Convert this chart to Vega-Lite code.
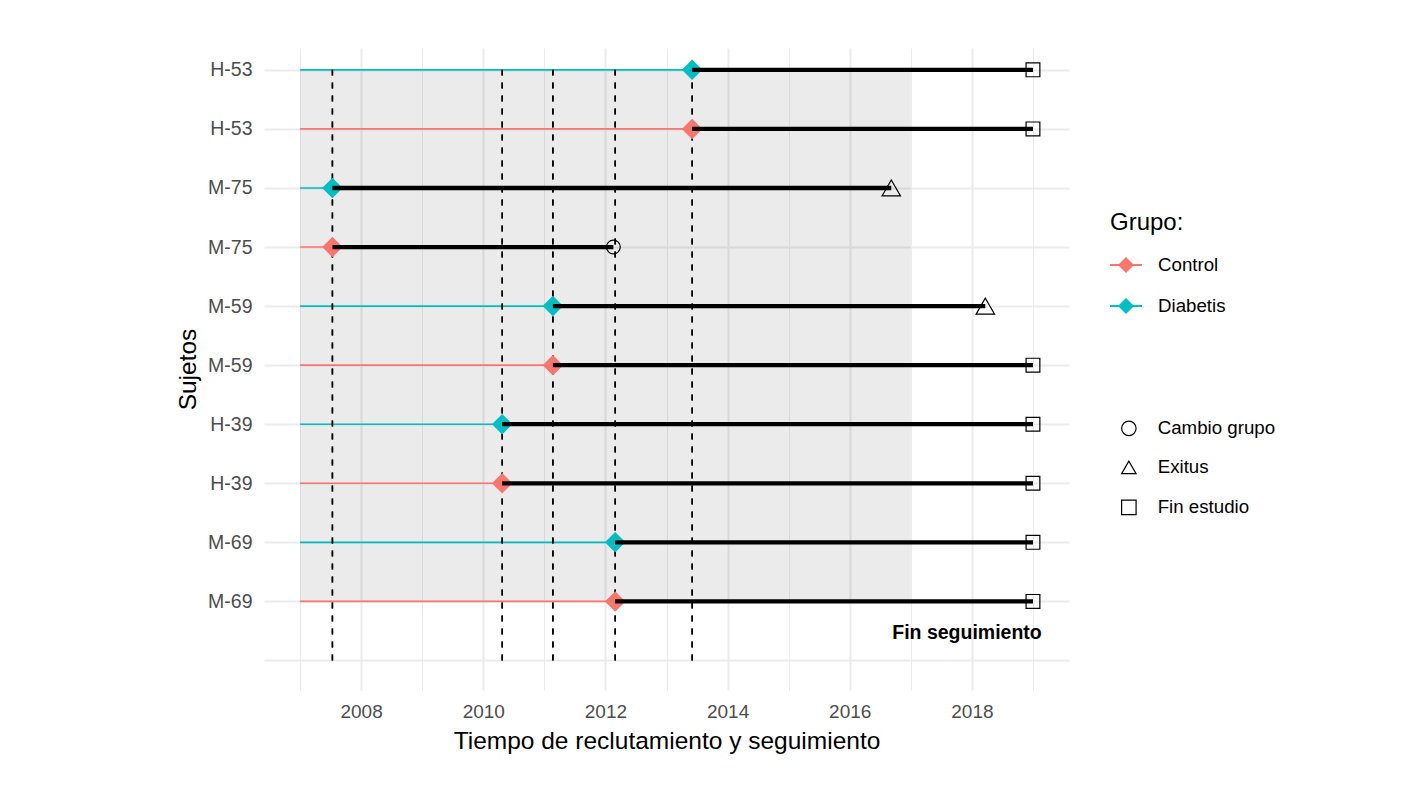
{
  "$schema": "https://vega.github.io/schema/vega-lite/v6.json",
  "autosize": {"type": "none"},
  "width": 805,
  "height": 642,
  "padding": {"left": 264, "top": 48, "right": 340, "bottom": 105},
  "background": "white",
  "config": {
    "font": "Liberation Sans",
    "view": {"stroke": null}
  },
  "datasets": {
    "sujetos": [
      {"id": "H-53", "grupo": "Diabetis", "pos": 10, "inicio": 2013.42, "fin": 2019.0, "evento": "Fin estudio"},
      {"id": "H-53", "grupo": "Control", "pos": 9, "inicio": 2013.42, "fin": 2019.0, "evento": "Fin estudio"},
      {"id": "M-75", "grupo": "Diabetis", "pos": 8, "inicio": 2007.53, "fin": 2016.68, "evento": "Exitus"},
      {"id": "M-75", "grupo": "Control", "pos": 7, "inicio": 2007.53, "fin": 2012.13, "evento": "Cambio grupo"},
      {"id": "M-59", "grupo": "Diabetis", "pos": 6, "inicio": 2011.14, "fin": 2018.22, "evento": "Exitus"},
      {"id": "M-59", "grupo": "Control", "pos": 5, "inicio": 2011.14, "fin": 2019.0, "evento": "Fin estudio"},
      {"id": "H-39", "grupo": "Diabetis", "pos": 4, "inicio": 2010.31, "fin": 2019.0, "evento": "Fin estudio"},
      {"id": "H-39", "grupo": "Control", "pos": 3, "inicio": 2010.31, "fin": 2019.0, "evento": "Fin estudio"},
      {"id": "M-69", "grupo": "Diabetis", "pos": 2, "inicio": 2012.16, "fin": 2019.0, "evento": "Fin estudio"},
      {"id": "M-69", "grupo": "Control", "pos": 1, "inicio": 2012.16, "fin": 2019.0, "evento": "Fin estudio"}
    ],
    "periodo": [{"desde": 2007, "hasta": 2017, "pos1": 1, "pos2": 10}],
    "nota": [{"texto": "Fin seguimiento", "anio": 2017.92, "pos": 0.47}]
  },
  "layer": [
    {
      "data": {"name": "periodo"},
      "mark": {"type": "rect", "fill": "#000000", "opacity": 0.08},
      "encoding": {
        "x": {
          "field": "desde", "type": "quantitative",
          "scale": {"domain": [2006.41, 2019.59], "nice": false, "zero": false},
          "axis": {
            "title": "Tiempo de reclutamiento y seguimiento",
            "values": [2007, 2008, 2009, 2010, 2011, 2012, 2013, 2014, 2015, 2016, 2017, 2018, 2019],
            "format": "d",
            "labelExpr": "datum.value % 2 === 0 ? datum.label : ''",
            "domain": false, "ticks": false,
            "labelFontSize": 19, "labelColor": "#4D4D4D", "labelPadding": 12,
            "titleFontSize": 24.5, "titleColor": "#000000", "titleFontWeight": "normal", "titlePadding": 8,
            "grid": true, "gridColor": "#EBEBEB",
            "gridWidth": {"condition": {"test": "datum.value % 2 === 0", "value": 2}, "value": 1}
          }
        },
        "x2": {"field": "hasta"},
        "y": {
          "field": "pos1", "type": "quantitative",
          "scale": {"domain": [-0.5, 10.37], "nice": false, "zero": false},
          "axis": {
            "title": "Sujetos",
            "values": [0, 0.5, 1, 1.5, 2, 2.5, 3, 3.5, 4, 4.5, 5, 5.5, 6, 6.5, 7, 7.5, 8, 8.5, 9, 9.5, 10],
            "labelExpr": "datum.value >= 1 && datum.value % 1 === 0 ? ['', 'M-69', 'M-69', 'H-39', 'H-39', 'M-59', 'M-59', 'M-75', 'M-75', 'H-53', 'H-53'][datum.value] : ''",
            "domain": false, "ticks": false,
            "labelFontSize": 19.5, "labelColor": "#4D4D4D", "labelPadding": 12,
            "titleFontSize": 24.5, "titleColor": "#000000", "titleFontWeight": "normal", "titlePadding": 7,
            "grid": true, "gridColor": "#EBEBEB",
            "gridWidth": {"condition": {"test": "datum.value % 1 === 0", "value": 2}, "value": 1}
          }
        },
        "y2": {"field": "pos2"}
      }
    },
    {
      "data": {"name": "sujetos"},
      "mark": {"type": "rule", "strokeWidth": 1.6},
      "encoding": {
        "x": {"field": "inicio", "type": "quantitative", "scale": {"domain": [2006.41, 2019.59], "nice": false, "zero": false}},
        "x2": {"datum": 2007},
        "y": {"field": "pos", "type": "quantitative", "scale": {"domain": [-0.5, 10.37], "nice": false, "zero": false}},
        "color": {"field": "grupo", "type": "nominal", "scale": {"domain": ["Control", "Diabetis"], "range": ["#F8766D", "#00BFC4"]}}
      }
    },
    {
      "data": {"name": "sujetos"},
      "mark": {"type": "rule", "strokeWidth": 1.5, "color": "#000000", "strokeDash": [6, 7]},
      "encoding": {
        "x": {"field": "inicio", "type": "quantitative", "scale": {"domain": [2006.41, 2019.59], "nice": false, "zero": false}},
        "y": {"datum": 0, "type": "quantitative", "scale": {"domain": [-0.5, 10.37], "nice": false, "zero": false}},
        "y2": {"datum": 10}
      }
    },
    {
      "data": {"name": "sujetos"},
      "mark": {"type": "point", "shape": "diamond", "filled": true, "size": 420, "opacity": 1},
      "encoding": {
        "x": {"field": "inicio", "type": "quantitative", "scale": {"domain": [2006.41, 2019.59], "nice": false, "zero": false}},
        "y": {"field": "pos", "type": "quantitative", "scale": {"domain": [-0.5, 10.37], "nice": false, "zero": false}},
        "color": {
          "field": "grupo", "type": "nominal",
          "scale": {"domain": ["Control", "Diabetis"], "range": ["#F8766D", "#00BFC4"]},
          "legend": {
            "title": "Grupo:", "orient": "none", "legendX": 846, "legendY": 163,
            "padding": 0,
            "titleFontSize": 24, "titleFontWeight": "normal", "titleColor": "#000000", "titlePadding": 14,
            "labelFontSize": 18.7, "labelColor": "#000000", "labelOffset": 16,
            "symbolType": "M-1,-0.06H1V0.06H-1Z M-0.5,0L0,-0.5L0.5,0L0,0.5Z",
            "symbolSize": 1024, "symbolStrokeWidth": 0, "symbolOpacity": 1,
            "rowPadding": 15
          }
        }
      }
    },
    {
      "data": {"name": "sujetos"},
      "mark": {"type": "rule", "strokeWidth": 4.3, "color": "#000000"},
      "encoding": {
        "x": {"field": "inicio", "type": "quantitative", "scale": {"domain": [2006.41, 2019.59], "nice": false, "zero": false}},
        "x2": {"field": "fin"},
        "y": {"field": "pos", "type": "quantitative", "scale": {"domain": [-0.5, 10.37], "nice": false, "zero": false}}
      }
    },
    {
      "data": {"name": "sujetos"},
      "mark": {"type": "point", "filled": false, "stroke": "#000000", "strokeWidth": 1.2, "opacity": 1},
      "encoding": {
        "x": {"field": "fin", "type": "quantitative", "scale": {"domain": [2006.41, 2019.59], "nice": false, "zero": false}},
        "y": {"field": "pos", "type": "quantitative", "scale": {"domain": [-0.5, 10.37], "nice": false, "zero": false}},
        "size": {"condition": {"test": "datum.evento === 'Exitus'", "value": 340}, "value": 190},
        "shape": {
          "field": "evento", "type": "nominal",
          "scale": {"domain": ["Cambio grupo", "Exitus", "Fin estudio"], "range": ["circle", "triangle-up", "square"]},
          "legend": {
            "title": null, "orient": "none", "legendX": 855.5, "legendY": 371,
            "padding": 0,
            "labelFontSize": 18.7, "labelColor": "#000000", "labelOffset": 19.5,
            "symbolSize": 210, "symbolStrokeColor": "#000000", "symbolFillColor": "transparent", "symbolStrokeWidth": 1.2, "symbolOpacity": 1,
            "rowPadding": 19
          }
        }
      }
    },
    {
      "data": {"name": "nota"},
      "mark": {"type": "text", "fontWeight": "bold", "fontSize": 19.5, "color": "#000000", "align": "center", "baseline": "middle"},
      "encoding": {
        "x": {"field": "anio", "type": "quantitative", "scale": {"domain": [2006.41, 2019.59], "nice": false, "zero": false}},
        "y": {"field": "pos", "type": "quantitative", "scale": {"domain": [-0.5, 10.37], "nice": false, "zero": false}},
        "text": {"field": "texto", "type": "nominal"}
      }
    }
  ]
}
